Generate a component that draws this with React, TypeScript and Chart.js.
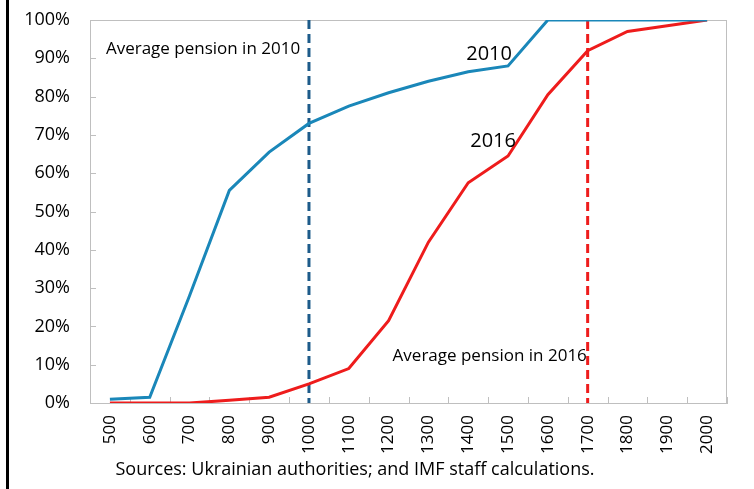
import React, { useEffect, useRef } from "react";
import { Chart, registerables } from "chart.js";

Chart.register(...registerables);

const categories = ["500", "600", "700", "800", "900", "1000", "1100", "1200", "1300", "1400", "1500", "1600", "1700", "1800", "1900", "2000"];
const series2010 = [1, 1.5, 28, 55.5, 65.5, 73, 77.5, 81, 84, 86.5, 88, 100, 100, 100, 100, 100];
const series2016 = [0, 0, 0, 0.7, 1.5, 5, 9, 21.5, 42, 57.5, 64.5, 80.5, 92, 97, 98.5, 100];
const yTicks = [0, 10, 20, 30, 40, 50, 60, 70, 80, 90, 100];
const avgPension2010 = "1000";
const avgPension2016 = "1700";
const footerText = "Sources: Ukrainian authorities; and IMF staff calculations.";

const FONT = "'Open Sans', 'Noto Sans', sans-serif";
const BLUE = "#1a87b9";
const RED = "#ee1c1c";
const NAVY = "#1d5b8a";
const GREY = "#bfbfbf";

const decorPlugin = {
  id: "decor",
  beforeDatasetsDraw(chart: any) {
    const { ctx, chartArea, scales } = chart;
    const xs = scales.x;
    const ys = scales.y;
    ctx.save();
    ctx.strokeStyle = GREY;
    ctx.lineWidth = 1;
    ctx.strokeRect(chartArea.left + 0.5, chartArea.top + 0.5, chartArea.right - chartArea.left - 1, chartArea.bottom - chartArea.top);
    ctx.beginPath();
    yTicks.forEach((v) => {
      const y = Math.round(ys.getPixelForValue(v)) + 0.5;
      ctx.moveTo(chartArea.left, y);
      ctx.lineTo(chartArea.left + 6, y);
    });
    for (let i = 0; i <= categories.length; i++) {
      const x = Math.round(xs.getPixelForValue(i - 0.5)) + 0.5;
      ctx.moveTo(x, chartArea.bottom);
      ctx.lineTo(x, chartArea.bottom - 6);
    }
    ctx.stroke();
    const drawV = (cat: string, color: string) => {
      const x = xs.getPixelForValue(categories.indexOf(cat));
      ctx.beginPath();
      ctx.strokeStyle = color;
      ctx.lineWidth = 3;
      ctx.setLineDash([9, 5]);
      ctx.moveTo(x, chartArea.top);
      ctx.lineTo(x, chartArea.bottom);
      ctx.stroke();
      ctx.setLineDash([]);
    };
    drawV(avgPension2010, NAVY);
    drawV(avgPension2016, RED);
    ctx.restore();
  },
  afterDraw(chart: any) {
    const { ctx, scales } = chart;
    const xs = scales.x;
    const ys = scales.y;
    ctx.save();
    ctx.fillStyle = "#000";
    ctx.textBaseline = "alphabetic";
    ctx.textAlign = "left";
    ctx.font = `17px ${FONT}`;
    ctx.fillText("Average pension in 2010", xs.getPixelForValue(0) - 4, ys.getPixelForValue(91));
    ctx.fillText("Average pension in 2016", xs.getPixelForValue(7) + 4, ys.getPixelForValue(11));
    ctx.font = `20px ${FONT}`;
    ctx.fillText("2010", xs.getPixelForValue(9) - 2, ys.getPixelForValue(89.5));
    ctx.fillText("2016", xs.getPixelForValue(9) + 2, ys.getPixelForValue(66.8));
    ctx.font = `18px ${FONT}`;
    ctx.textAlign = "center";
    ctx.fillText(footerText, 355, 475);
    ctx.restore();
  },
};

export default function App() {
  const ref = useRef<HTMLCanvasElement | null>(null);
  useEffect(() => {
    if (!ref.current) return;
    const chart = new Chart(ref.current, {
      type: "line",
      data: {
        labels: categories,
        datasets: [
          { label: "2010", data: series2010, borderColor: BLUE, borderWidth: 3, pointRadius: 0, tension: 0, fill: false },
          { label: "2016", data: series2016, borderColor: RED, borderWidth: 3, pointRadius: 0, tension: 0, fill: false },
        ],
      },
      options: {
        responsive: false,
        animation: false,
        layout: { padding: { left: 0, top: 20, right: 27, bottom: 0 } },
        plugins: { legend: { display: false }, tooltip: { enabled: false }, title: { display: false } },
        scales: {
          x: {
            type: "category",
            offset: true,
            grid: { display: false, drawTicks: false },
            border: { display: true, color: GREY, width: 1 },
            ticks: {
              minRotation: 90,
              maxRotation: 90,
              autoSkip: false,
              padding: 12,
              color: "#000",
              font: { family: FONT, size: 17 },
            },
            afterFit: (s: any) => { s.height = 86; s.paddingLeft = 0; s.paddingRight = 0; },
          },
          y: {
            min: 0,
            max: 100,
            afterBuildTicks: (s: any) => { s.ticks = yTicks.map((v) => ({ value: v })); },
            grid: { display: false, drawTicks: false },
            border: { display: true, color: GREY, width: 1 },
            ticks: {
              padding: 20,
              color: "#000",
              font: { family: FONT, size: 18 },
              callback: (v: any) => `${v}%`,
            },
            afterFit: (s: any) => { s.width = 90; s.paddingTop = 0; s.paddingBottom = 0; },
          },
        },
      },
      plugins: [decorPlugin],
    });
    return () => chart.destroy();
  }, []);
  return (
    <div style={{ position: "fixed", left: 0, top: 0, width: 754, height: 489, background: "#fff", overflow: "hidden" }}>
      <div style={{ position: "absolute", left: 6, top: 0, width: 3, height: 489, background: "#000" }} />
      <canvas ref={ref} width={754} height={489} style={{ position: "absolute", left: 0, top: 0, width: 754, height: 489 }} />
    </div>
  );
}
